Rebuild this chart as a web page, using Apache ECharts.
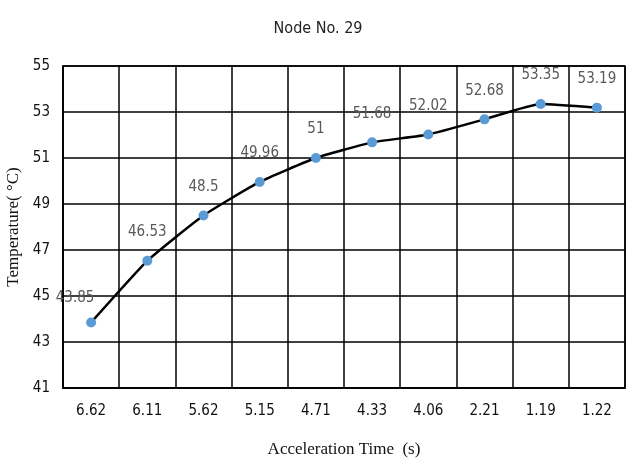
<!DOCTYPE html>
<html>
<head>
<meta charset="utf-8">
<script src="https://cdn.jsdelivr.net/npm/echarts@6/dist/echarts.min.js"></script>
<style>html,body{margin:0;padding:0;background:#fff}#chart{width:643px;height:460px}</style>
</head>
<body>
<div id="chart"></div>
<script>
// Acceleration time categories (s) and node temperature (°C)
const accelerationTimes = ['6.62', '6.11', '5.62', '5.15', '4.71', '4.33', '4.06', '2.21', '1.19', '1.22'];
const temperatures = [43.85, 46.53, 48.5, 49.96, 51, 51.68, 52.02, 52.68, 53.35, 53.19];
const yMin = 41, yMax = 55, yStep = 2;

const chart = echarts.init(document.getElementById('chart'));
const sansFont = '"Liberation Sans Narrow", "DejaVu Sans Condensed", "Open Sans", sans-serif';
const serifFont = '"Liberation Serif", "DejaVu Serif", serif';

chart.setOption({
  animation: false,
  backgroundColor: '#fff',
  title: {
    text: 'Node No. 29',
    left: 313, top: 16, textAlign: 'center',
    textStyle: { fontFamily: sansFont, fontSize: 16, fontWeight: 'normal', color: '#222' }
  },
  grid: {
    left: 63, right: 18, top: 66, bottom: 72,
    outerBoundsMode: 'none', containLabel: false,
    show: true, borderColor: '#000', borderWidth: 1.5
  },
  xAxis: {
    type: 'category',
    data: accelerationTimes,
    boundaryGap: true,
    name: 'Acceleration Time  (s)',
    nameLocation: 'middle',
    nameGap: 53,
    nameTextStyle: { fontFamily: serifFont, fontSize: 17, color: '#111' },
    axisLine: { lineStyle: { color: '#000', width: 1.5 } },
    axisTick: { show: false },
    axisLabel: { margin: 16, fontFamily: sansFont, fontSize: 15, color: '#111' },
    splitLine: { show: true, lineStyle: { color: '#000', width: 1.5 } }
  },
  yAxis: {
    type: 'value',
    min: yMin, max: yMax, interval: yStep,
    name: 'Temperature( °C)',
    nameLocation: 'middle',
    nameGap: 38,
    nameTextStyle: { fontFamily: serifFont, fontSize: 17, color: '#111' },
    axisLine: { show: true, lineStyle: { color: '#000', width: 1.5 } },
    axisTick: { show: false },
    axisLabel: { margin: 13, fontFamily: sansFont, fontSize: 15, color: '#111' },
    splitLine: { show: true, lineStyle: { color: '#000', width: 1.5 } }
  },
  series: [{
    type: 'line',
    data: temperatures.map((v, i) => i === 0
      ? { value: v, label: { offset: [-16, 4] } }
      : v),
    smooth: 0.15,
    symbol: 'circle',
    symbolSize: 10,
    lineStyle: { color: '#000', width: 2.5 },
    itemStyle: { color: '#5b9bd5', borderWidth: 0 },
    label: {
      show: true,
      position: 'top',
      distance: 16,
      fontFamily: sansFont,
      fontSize: 15,
      color: '#595959'
    },
    z: 5
  }]
});
</script>
</body>
</html>
